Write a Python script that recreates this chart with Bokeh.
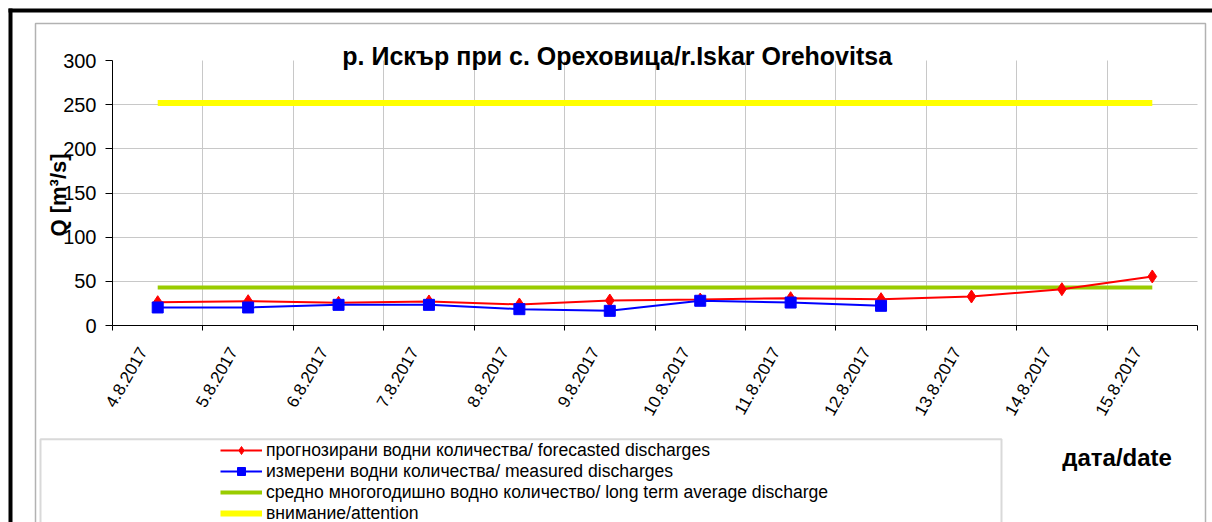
import math
from bokeh.plotting import figure
from bokeh.models import (Range1d, FixedTicker, Label, Legend, LegendItem,
                          BoxAnnotation)
from bokeh.embed import file_html
from bokeh.resources import INLINE

# ---------------- data ----------------
dates = ["4.8.2017", "5.8.2017", "6.8.2017", "7.8.2017", "8.8.2017", "9.8.2017",
         "10.8.2017", "11.8.2017", "12.8.2017", "13.8.2017", "14.8.2017", "15.8.2017"]
forecast = [26.4, 27.5, 25.7, 27.2, 23.8, 28.3, 29.4, 30.9, 29.8, 32.8, 41.1, 55.5]
measured = [20.4, 20.4, 23.4, 23.4, 18.5, 16.6, 28.0, 26.0, 22.3]
long_term_avg = [43, 43, 43, 43, 43, 43, 43, 43, 43, 43, 43, 43]
attention = [252, 252, 252, 252, 252, 252, 252, 252, 252, 252, 252, 252]
y_ticks = [0, 50, 100, 150, 200, 250, 300]
y_max = 300

title_text = "р. Искър при с. Ореховица/r.Iskar Orehovitsa"
y_label_text = "Q [m³/s]"
x_label_text = "дата/date"
legend_labels = ["прогнозирани водни количества/ forecasted discharges",
                 "измерени водни количества/ measured discharges",
                 "средно многогодишно водно количество/ long term average discharge",
                 "внимание/attention"]

FONT = "Liberation Sans"

# ---------------- layout (pixels) ----------------
W, H = 1212, 522
PL, PR, PT, PB = 112, 1197, 60, 325     # plot area box on the canvas

n = len(dates)
xu = n / (PR - PL)          # data units per pixel
yu = y_max / (PB - PT)
x_range = Range1d(-PL * xu, n + (W - PR) * xu)
y_range = Range1d(-(H - PB) * yu, y_max + PT * yu)

def sy(py):                  # canvas y (from top) -> screen y (from bottom)
    return H - py

x_all = [i + 0.5 for i in range(n)]
x_meas = x_all[:len(measured)]

p = figure(width=W, height=H, output_backend="svg", toolbar_location=None,
           title=None, x_range=x_range, y_range=y_range,
           min_border=0, min_border_left=0, min_border_right=0,
           min_border_top=0, min_border_bottom=0)
p.outline_line_color = None
p.background_fill_color = "white"
p.border_fill_color = "white"

# y axis
p.yaxis.fixed_location = 0
p.yaxis.bounds = (0, y_max)
p.yaxis.ticker = FixedTicker(ticks=y_ticks)
p.yaxis.major_tick_out = 7
p.yaxis.major_tick_in = 0
p.yaxis.minor_tick_out = 0
p.yaxis.minor_tick_in = 0
p.yaxis.axis_line_color = "black"
p.yaxis.major_tick_line_color = "black"
p.yaxis.major_label_text_font = FONT
p.yaxis.major_label_text_font_size = "20px"
p.yaxis.major_label_text_color = "black"
p.yaxis.major_label_standoff = 9

# x axis: ticks at category boundaries, date labels near category centres
label_shift = 15 * xu
label_pos = [c - label_shift for c in x_all]
p.xaxis.fixed_location = 0
p.xaxis.bounds = (0, n)
p.xaxis.ticker = FixedTicker(ticks=label_pos, minor_ticks=list(range(n + 1)))
p.xaxis.major_label_overrides = {x: d for x, d in zip(label_pos, dates)}
p.xaxis.major_tick_line_color = None
p.xaxis.major_tick_out = 5
p.xaxis.major_tick_in = 0
p.xaxis.minor_tick_out = 5
p.xaxis.minor_tick_in = 0
p.xaxis.minor_tick_line_color = "black"
p.xaxis.axis_line_color = "black"
p.xaxis.major_label_orientation = math.pi / 3
p.xaxis.major_label_standoff = 18
p.xaxis.major_label_text_font = FONT
p.xaxis.major_label_text_font_size = "17px"
p.xaxis.major_label_text_color = "black"

# grids
grid_color = "#c8c8c8"
p.xgrid.ticker = FixedTicker(ticks=list(range(1, n)))
p.ygrid.ticker = FixedTicker(ticks=y_ticks[1:-1])
p.xgrid.grid_line_color = grid_color
p.ygrid.grid_line_color = grid_color
try:
    p.xgrid.cross_bounds = (0, y_max)
    p.ygrid.cross_bounds = (0, n)
except AttributeError:
    p.xgrid.grid_line_color = None
    p.ygrid.grid_line_color = None
    gx = list(range(1, n))
    p.segment(gx, [0] * len(gx), gx, [y_max] * len(gx), line_color=grid_color)
    gy = y_ticks[1:-1]
    p.segment([0] * len(gy), gy, [n] * len(gy), gy, line_color=grid_color)

# series
g_line = p.line(x_all, long_term_avg, line_color="#99CC00", line_width=4)
y_line = p.line(x_all, attention, line_color="#FFFF00", line_width=6)
r_line = p.line(x_all, forecast, line_color="#FF0000", line_width=2)
r_pts = p.scatter(x_all, forecast, marker="diamond", size=13,
                  fill_color="#FF0000", line_color="#FF0000")
b_line = p.line(x_meas, measured, line_color="#0000FF", line_width=2)
b_pts = p.scatter(x_meas, measured, marker="square", size=11,
                  fill_color="#0000FF", line_color="#0000FF")

# frames
def box(l, r, t, b, **kw):
    return BoxAnnotation(left=l, right=r, top=t, bottom=b,
                         left_units="screen", right_units="screen",
                         top_units="screen", bottom_units="screen", **kw)

p.add_layout(box(8, 12, sy(8), sy(H), fill_color="black", fill_alpha=1, line_color=None))
p.add_layout(box(8, W, sy(8), sy(12), fill_color="black", fill_alpha=1, line_color=None))
p.add_layout(box(35, 1205, sy(23), -10, fill_alpha=0, line_color="black", line_width=1.5))
p.add_layout(box(40, 1001, sy(438.7), -10, fill_alpha=0, line_color="#808080", line_width=2))

legend = Legend(items=[
    LegendItem(label=legend_labels[0], renderers=[r_line, r_pts]),
    LegendItem(label=legend_labels[1], renderers=[b_line, b_pts]),
    LegendItem(label=legend_labels[2], renderers=[g_line]),
    LegendItem(label=legend_labels[3], renderers=[y_line]),
], location=(220, sy(523.5)), orientation="vertical", padding=0, margin=0, spacing=0,
    border_line_color=None, background_fill_alpha=0, glyph_width=42, glyph_height=20,
    label_height=20, label_standoff=4, label_text_font=FONT,
    label_text_font_size="17.6px", label_text_color="black")
p.add_layout(legend)

# text labels (baseline offsets compensate the label box padding)
p.add_layout(Label(x=616.7, y=sy(55), x_units="screen", y_units="screen", text=title_text,
                   text_align="center", text_baseline="alphabetic", text_font=FONT,
                   text_font_style="bold", text_font_size="25px", text_color="black"))
p.add_layout(Label(x=58, y=sy(194.5), x_units="screen", y_units="screen", text=y_label_text,
                   angle=math.pi / 2, text_align="center", text_baseline="alphabetic",
                   text_font=FONT, text_font_style="bold", text_font_size="22px",
                   text_color="black"))
p.add_layout(Label(x=1061.7, y=sy(457), x_units="screen", y_units="screen", text=x_label_text,
                   text_align="left", text_baseline="alphabetic", text_font=FONT,
                   text_font_style="bold", text_font_size="24px", text_color="black"))

open("out.html", "w").write(file_html(p, INLINE))
